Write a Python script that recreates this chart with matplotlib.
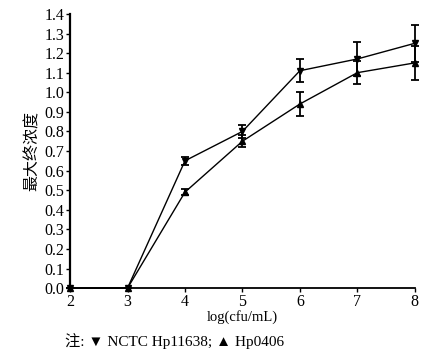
import numpy as np
from matplotlib import pyplot as plt

plt.rcParams['font.family'] = ['Liberation Serif', 'Noto Sans CJK SC', 'DejaVu Sans']

logcfu = [2, 3, 4, 5, 6, 7, 8]
nctc = [0.0, 0.0, 0.65, 0.80, 1.11, 1.17, 1.25]
nctc_err = [0.0, 0.0, 0.02, 0.035, 0.06, 0.085, 0.095]
hp0406 = [0.0, 0.0, 0.49, 0.75, 0.94, 1.10, 1.15]
hp0406_err = [0.0, 0.0, 0.015, 0.03, 0.06, 0.06, 0.085]

fig = plt.figure(figsize=(4.38, 3.57), dpi=100)
ax = fig.add_axes([0.16, 0.193, 0.787, 0.768])

ax.errorbar(logcfu, nctc, yerr=nctc_err, color='black', marker='v', markersize=5,
            linewidth=1, elinewidth=1.3, capsize=3, capthick=1.3, clip_on=False)
ax.errorbar(logcfu, hp0406, yerr=hp0406_err, color='black', marker='^', markersize=5,
            linewidth=1, elinewidth=1.3, capsize=3, capthick=1.3, clip_on=False)

ax.set_xlim(2, 8)
ax.set_ylim(0, 1.4)
ax.set_xticks(np.arange(2, 9, 1))
ax.set_yticks(np.arange(0, 1.41, 0.1))
ax.set_yticklabels(['%.1f' % v for v in np.arange(0, 1.41, 0.1)])
ax.spines['top'].set_visible(False)
ax.spines['right'].set_visible(False)
ax.spines['left'].set_linewidth(1.6)
ax.spines['bottom'].set_linewidth(1.3)
ax.tick_params(direction='out', length=3, width=1, labelsize=11.5, pad=1)

ax.set_xlabel('log(cfu/mL)', fontsize=10.5, labelpad=0)
ax.set_ylabel('最大终浓度', fontsize=11.5, labelpad=3)

fig.text(0.148, 0.03, '注: ▼ NCTC Hp11638; ▲ Hp0406', fontsize=11)

fig.savefig('out.png', dpi=100)
